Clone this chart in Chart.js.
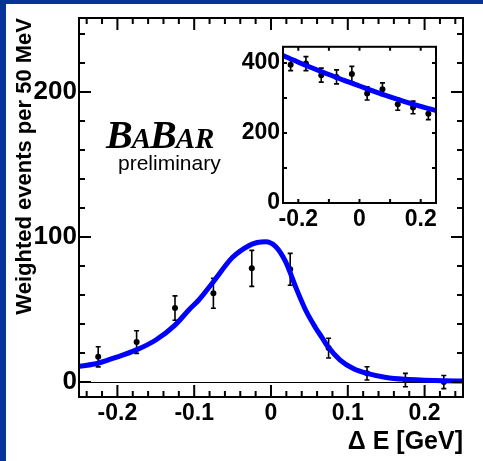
<!DOCTYPE html>
<html>
<head>
<meta charset="utf-8">
<script src="https://cdn.jsdelivr.net/npm/chart.js@4.4.0/dist/chart.umd.min.js"></script>
<style>
  html, body { margin: 0; padding: 0; background: #fff; }
  #wrap { position: relative; width: 483px; height: 461px; overflow: hidden; }
  #main { position: absolute; left: 0; top: 0; }
  #inset { position: absolute; left: 230px; top: 30px; }
</style>
</head>
<body>
<div id="wrap">
  <canvas id="main" width="483" height="461"></canvas>
  <canvas id="inset" width="215" height="205"></canvas>
</div>
<script>
// bin centres (GeV), shared by both plots
var binCentres = [-0.225, -0.175, -0.125, -0.075, -0.025, 0.025, 0.075, 0.125, 0.175, 0.225];

// main plot: weighted events and errors
var mainValues = [17.4, 27.6, 51, 61.2, 78.4, 77.7, 23.4, 6, 1.4, 0];
var mainErrors = [6.9, 7.8, 8.4, 10.3, 12.4, 11, 6.8, 4.6, 4.6, 4.5];

// main fit curve
var fitX = [-0.25, -0.225, -0.206, -0.176, -0.15, -0.125, -0.107, -0.094, -0.076, -0.05, -0.029, -0.018, -0.007,
    0.006, 0.019, 0.032, 0.045, 0.058, 0.066, 0.074, 0.09, 0.107, 0.125, 0.15, 0.175, 0.2, 0.225, 0.25];
var fitY = [10.8, 13, 16.3, 22, 29, 39.3, 49.7, 56.6, 68.5, 86, 94, 96.2, 96.8,
    93.5, 83, 65.7, 49.7, 37.5, 31, 24.5, 15.2, 9.4, 6, 3.2, 1.9, 1.3, 0.9, 0.7];

// inset: values, errors and fit
var insetValues = [395, 398, 365, 360, 368, 313, 325, 282, 273, 255];
var insetErrors = [17, 20, 20, 20, 22, 19, 18, 17, 18, 17];
var insetFitX = [-0.25, -0.2, -0.15, -0.1, -0.05, 0, 0.05, 0.1, 0.15, 0.2, 0.25];
var insetFitY = [421, 402, 384, 367, 350, 334, 318, 303, 289, 276, 264];

// tick labels
var mainXTicks = [-0.2, -0.1, 0, 0.1, 0.2];
var mainXTickLabels = ["-0.2", "-0.1", "0", "0.1", "0.2"];
var mainYTicks = [0, 100, 200];
var insetXTicks = [-0.2, 0, 0.2];
var insetXTickLabels = ["-0.2", "0", "0.2"];
var insetYTicks = [0, 200, 400];

var xTitle = "\u0394 E [GeV]";
var yTitle = "Weighted events per 50 MeV";

Chart.defaults.font.family = "'Liberation Sans', Arial, sans-serif";
Chart.defaults.color = "#000";

function points(xs, ys) {
    return xs.map(function (x, i) { return {x: x, y: ys[i]}; });
}

function tickList(from, to, step, majorEvery) {
    var list = [];
    for (var i = from; i <= to; i++) {
        list.push({v: i * step, major: i % majorEvery === 0});
    }
    return list;
}

// error bars under the datasets, drawn with the chart's scales
var errorBars = {
    id: "errorBars",
    beforeDatasetsDraw: function (chart) {
        var ctx = chart.ctx, xs = chart.scales.x, ys = chart.scales.y;
        chart.data.datasets.forEach(function (ds) {
            if (!ds.errors) return;
            ctx.save();
            ctx.strokeStyle = "#000";
            ctx.lineWidth = 1.6;
            ctx.beginPath();
            ds.data.forEach(function (p, i) {
                var px = xs.getPixelForValue(p.x);
                var top = ys.getPixelForValue(p.y + ds.errors[i]);
                var bot = ys.getPixelForValue(p.y - ds.errors[i]);
                ctx.moveTo(px, top); ctx.lineTo(px, bot);
                ctx.moveTo(px - 2.5, top); ctx.lineTo(px + 2.5, top);
                ctx.moveTo(px - 2.5, bot); ctx.lineTo(px + 2.5, bot);
            });
            ctx.stroke();
            ctx.restore();
        });
    }
};

// box around the plot with inward ticks on all four sides
var frame = {
    id: "frame",
    afterDraw: function (chart, args, o) {
        var ctx = chart.ctx, a = chart.chartArea, xs = chart.scales.x, ys = chart.scales.y;
        ctx.save();
        ctx.strokeStyle = "#000";
        ctx.lineWidth = o.tickWidth;
        ctx.beginPath();
        o.xTicks.forEach(function (t) {
            var px = xs.getPixelForValue(t.v);
            var len = t.major ? o.major : o.minor;
            ctx.moveTo(px, a.bottom); ctx.lineTo(px, a.bottom - len);
            ctx.moveTo(px, a.top); ctx.lineTo(px, a.top + len);
        });
        o.yTicks.forEach(function (t) {
            var py = ys.getPixelForValue(t.v);
            var len = t.major ? o.major : o.minor;
            ctx.moveTo(a.left, py); ctx.lineTo(a.left + len, py);
            ctx.moveTo(a.right, py); ctx.lineTo(a.right - len, py);
        });
        ctx.stroke();
        ctx.lineWidth = o.frameWidth;
        ctx.strokeRect(a.left, a.top, a.right - a.left, a.bottom - a.top);
        ctx.restore();
    }
};

// blue page edge and the BaBar preliminary label
var decor = {
    id: "decor",
    afterDraw: function (chart) {
        var ctx = chart.ctx;
        ctx.save();
        ctx.fillStyle = "#08349a";
        ctx.fillRect(0, 0, 6, chart.height);
        ctx.fillRect(0, 0, chart.width, 4);

        ctx.fillStyle = "#000";
        ctx.textBaseline = "alphabetic";
        var x = 106;
        [["B", 40], ["A", 29], ["B", 40], ["AR", 29]].forEach(function (part) {
            ctx.font = "bold italic " + part[1] + "px 'Liberation Serif', 'Times New Roman', serif";
            ctx.fillText(part[0], x, 148);
            x += ctx.measureText(part[0]).width - 1;
        });

        ctx.font = "21px 'Liberation Sans', Arial, sans-serif";
        ctx.fillText("preliminary", 118, 170);
        ctx.restore();
    }
};

new Chart(document.getElementById("main"), {
    type: "scatter",
    data: {
        datasets: [{
            type: "line",
            data: points(fitX, fitY),
            borderColor: "#0000ff",
            borderWidth: 5,
            pointRadius: 0,
            cubicInterpolationMode: "monotone",
            fill: false
        }, {
            data: points(binCentres, mainValues),
            errors: mainErrors,
            pointRadius: 3,
            backgroundColor: "#000",
            borderWidth: 0
        }]
    },
    options: {
        responsive: false,
        animation: false,
        events: [],
        layout: {padding: {left: 0, top: 18, right: 20, bottom: 0}},
        plugins: {
            legend: {display: false},
            tooltip: {enabled: false},
            frame: {
                xTicks: tickList(-12, 12, 0.02, 5),
                yTicks: tickList(0, 12, 20, 5),
                major: 12, minor: 6, tickWidth: 2, frameWidth: 2
            }
        },
        scales: {
            x: {
                type: "linear",
                min: -0.25, max: 0.25,
                afterFit: function (s) { s.height = 64; },
                afterBuildTicks: function (s) { s.ticks = mainXTicks.map(function (v) { return {value: v}; }); },
                grid: {display: false, drawTicks: false},
                border: {display: false},
                ticks: {
                    padding: 3, maxRotation: 0, autoSkip: false,
                    font: {size: 23, weight: "bold"},
                    callback: function (v) { return mainXTickLabels[mainXTicks.indexOf(v)]; }
                },
                title: {
                    display: true, text: xTitle, align: "end",
                    font: {size: 25, weight: "bold"},
                    padding: {top: 0, bottom: 4}
                }
            },
            y: {
                type: "linear",
                min: -10.3, max: 251,
                afterFit: function (s) { s.width = 79; },
                afterBuildTicks: function (s) { s.ticks = mainYTicks.map(function (v) { return {value: v}; }); },
                grid: {
                    drawTicks: false, lineWidth: 1,
                    color: function (c) { return c.tick && c.tick.value === 0 ? "#000" : "rgba(0,0,0,0)"; }
                },
                border: {display: false},
                ticks: {padding: 2, font: {size: 26, weight: "bold"}},
                title: {
                    display: true, text: yTitle, align: "end",
                    font: {size: 22, weight: "bold"},
                    padding: {top: 12, bottom: 0}
                }
            }
        }
    },
    plugins: [errorBars, frame, decor]
});

new Chart(document.getElementById("inset"), {
    type: "scatter",
    data: {
        datasets: [{
            type: "line",
            data: points(insetFitX, insetFitY),
            borderColor: "#0000ff",
            borderWidth: 5,
            pointRadius: 0,
            cubicInterpolationMode: "monotone",
            fill: false
        }, {
            data: points(binCentres, insetValues),
            errors: insetErrors,
            pointRadius: 3,
            backgroundColor: "#000",
            borderWidth: 0
        }]
    },
    options: {
        responsive: false,
        animation: false,
        events: [],
        layout: {padding: {left: 0, top: 7, right: 9, bottom: 0}},
        plugins: {
            legend: {display: false},
            tooltip: {enabled: false},
            frame: {
                xTicks: tickList(-2, 2, 0.1, 1),
                yTicks: tickList(0, 4, 100, 1),
                major: 4, minor: 4, tickWidth: 2, frameWidth: 2
            }
        },
        scales: {
            x: {
                type: "linear",
                min: -0.25, max: 0.25,
                afterFit: function (s) { s.height = 32; },
                afterBuildTicks: function (s) { s.ticks = insetXTicks.map(function (v) { return {value: v}; }); },
                grid: {display: false, drawTicks: false},
                border: {display: false},
                ticks: {
                    padding: 3, maxRotation: 0, autoSkip: false,
                    font: {size: 23, weight: "bold"},
                    callback: function (v) { return insetXTickLabels[insetXTicks.indexOf(v)]; }
                }
            },
            y: {
                type: "linear",
                min: 0, max: 446,
                afterFit: function (s) { s.width = 53; },
                afterBuildTicks: function (s) { s.ticks = insetYTicks.map(function (v) { return {value: v}; }); },
                grid: {display: false, drawTicks: false},
                border: {display: false},
                ticks: {padding: 3, font: {size: 23, weight: "bold"}}
            }
        }
    },
    plugins: [errorBars, frame]
});
</script>
</body>
</html>
